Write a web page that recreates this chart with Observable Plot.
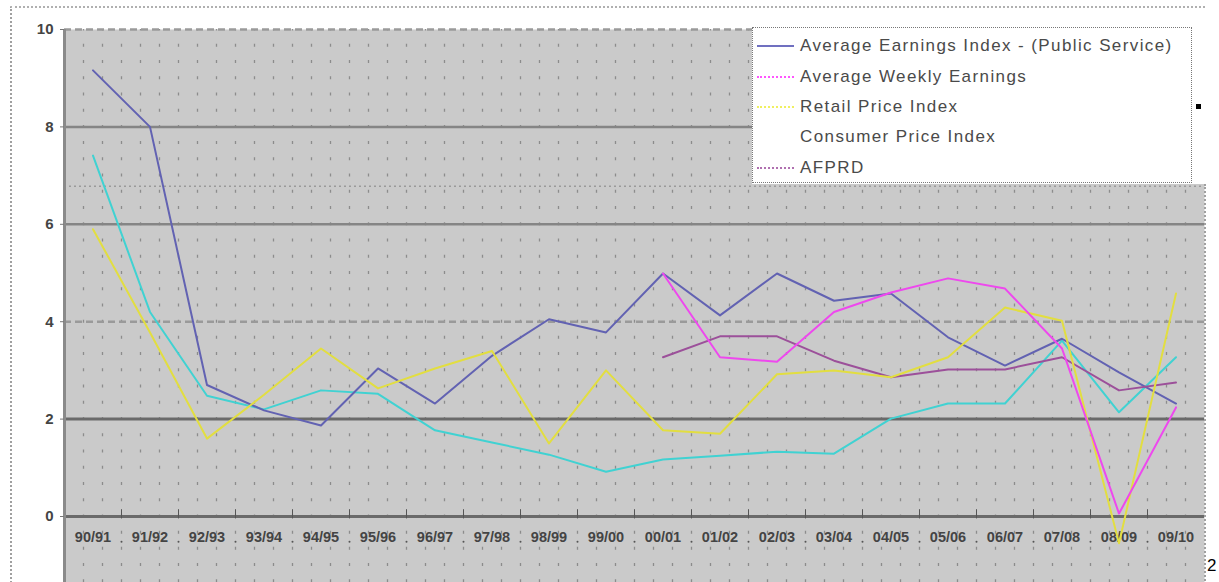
<!DOCTYPE html>
<html><head><meta charset="utf-8">
<script src="https://cdn.jsdelivr.net/npm/d3@7"></script>
<script src="https://cdn.jsdelivr.net/npm/@observablehq/plot@0.6"></script>
<style>
body{margin:0;background:#fff;font-family:"Liberation Sans",Arial,sans-serif;}
#wrap{position:relative;width:1219px;height:582px;overflow:hidden;background:#fff;}
#chart{position:absolute;left:0;top:0;}
#frameDots{position:absolute;left:10px;top:6px;width:1195px;height:600px;border-top:2px dotted #b0b0b0;border-left:2px dotted #a0a0a0;box-sizing:border-box;}
#rightDots{position:absolute;left:1204px;top:184px;width:0;height:400px;border-left:2px dotted #a0a0a0;}
#legendBg{position:absolute;left:752px;top:27px;width:455px;height:157px;background:#fff;}
#legend{position:absolute;left:752px;top:27px;width:440px;height:156px;background:#fff;border:1.5px dotted #777;box-sizing:border-box;}
.item{position:absolute;left:4px;height:20px;display:flex;align-items:center;}
.sw{width:37px;height:0;margin-right:6px;}
.lbl{font-size:17px;letter-spacing:1.4px;color:#4a4a4a;white-space:nowrap;}
#sq{position:absolute;left:1196px;top:104px;width:5px;height:5px;background:#000;}
#pg{position:absolute;left:1207px;top:556px;font-size:17px;color:#000;}
</style></head><body>
<div id="wrap">
<div id="frameDots"></div>
<div id="chart"></div>
<div id="rightDots"></div>
<div id="legendBg"></div>
<div id="legend"></div>
<div id="sq"></div>
<div id="pg">2</div>
</div>
<script>
const years = ["90/91","91/92","92/93","93/94","94/95","95/96","96/97","97/98","98/99","99/00","00/01","01/02","02/03","03/04","04/05","05/06","06/07","07/08","08/09","09/10"];
const seriesNames = ["Average Earnings Index -  (Public Service)","Average Weekly Earnings","Retail Price Index","Consumer Price Index","AFPRD"];
const seriesColors = ["#6262b2","#ee48ee","#e2de40","#40d2d2","#9c509a"];
const legendDash = ["", "3,2", "3,2", "", "3,2"];
const legendColors = ["#7070c0","#ff55ff","#f0f060","#ffffff","#b070b0"];
const aei = [9.16,8.0,2.7,2.18,1.87,3.04,2.32,3.3,4.05,3.78,4.99,4.13,4.99,4.43,4.58,3.68,3.1,3.65,2.96,2.32];
const awe = [null,null,null,null,null,null,null,null,null,null,4.99,3.27,3.18,4.2,4.6,4.89,4.68,3.45,0.06,2.24];
const rpi = [5.9,3.78,1.6,2.5,3.45,2.63,3.04,3.4,1.5,3.0,1.77,1.7,2.92,3.0,2.86,3.27,4.29,4.02,-0.55,4.58];
const cpi = [7.41,4.2,2.48,2.2,2.59,2.52,1.77,1.52,1.27,0.92,1.17,1.25,1.33,1.29,2.01,2.32,2.32,3.61,2.14,3.27];
const afprd = [null,null,null,null,null,null,null,null,null,null,3.27,3.7,3.7,3.2,2.86,3.02,3.02,3.27,2.59,2.75];
const yTicks = [0,2,4,6,8,10];
const solidGrid = [6,8];
const darkGrid = [0,2];
const dashedGrid = [4,10];
const dottedGrid = [6.78];
const yMin = -1.355;

const idx = years.map((_, i) => i);
const boundaries = d3.range(0, 19).map(i => i + 0.5);
const dotCols = d3.range(1, 60).map(k => -0.5 + k / 3);
const series = [aei, awe, rpi, cpi, afprd];
const drawOrder = [3, 0, 4, 2, 1];

const plot = Plot.plot({
  width: 1219, height: 582,
  marginLeft: 64, marginRight: 15, marginTop: 29, marginBottom: 0,
  style: {background: "transparent", fontFamily: "Liberation Sans, Arial, sans-serif"},
  x: {domain: [-0.5, 19.5], axis: null},
  y: {domain: [yMin, 10]},
  marks: [
    Plot.frame({fill: "#cacaca", stroke: null}),
    Plot.ruleX(dotCols, {stroke: "#8c8c8c", strokeWidth: 1.3, strokeDasharray: "3,13.23", strokeDashoffset: 1.5}),
    Plot.ruleY(dottedGrid, {stroke: "#9a9a9a", strokeWidth: 1.5, strokeDasharray: "2,3"}),
    Plot.ruleY(dashedGrid, {stroke: "#9a9a9a", strokeWidth: 2.5, strokeDasharray: "7,4"}),
    Plot.ruleY(solidGrid, {stroke: "#858585", strokeWidth: 2.5}),
    Plot.ruleY(darkGrid, {stroke: "#6a6a6a", strokeWidth: 3}),
    Plot.ruleX([-0.5], {stroke: "#8a8a8a", strokeWidth: 3}),
    Plot.ruleX(boundaries, {y1: -0.05, y2: 0.14, stroke: "#555", strokeWidth: 1}),
    Plot.dot(boundaries, {x: d => d, y: -0.52, r: 1, fill: "#555", stroke: null}),
    Plot.axisY({ticks: yTicks, tickSize: 4, tickPadding: 7, fontSize: 15, fontWeight: "bold", color: "#444", stroke: "#777", label: null}),
    Plot.text(years, {x: (d, i) => i, y: -0.43, text: d => d, fontSize: 14.5, fontWeight: "bold", fill: "#444"}),
    ...drawOrder.map(s => Plot.line(idx, {x: i => i, y: i => series[s][i], stroke: seriesColors[s], strokeWidth: 2, curve: "linear"}))
  ]
});
document.getElementById("chart").appendChild(plot);

const lg = document.getElementById("legend");
const tops = [8, 39, 69, 99, 130];
seriesNames.forEach((n, i) => {
  const it = document.createElement("div");
  it.className = "item";
  it.style.top = tops[i] + "px";
  const sw = document.createElement("div");
  sw.className = "sw";
  sw.style.borderTop = `2.5px ${legendDash[i] ? "dotted" : "solid"} ${legendColors[i]}`;
  const t = document.createElement("span");
  t.className = "lbl";
  t.textContent = n;
  it.appendChild(sw); it.appendChild(t);
  lg.appendChild(it);
});
</script>
</body></html>
